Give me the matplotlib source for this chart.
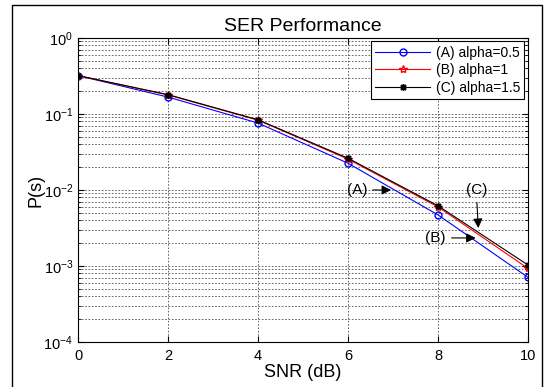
import matplotlib
matplotlib.use("Agg")
import matplotlib.pyplot as plt
from matplotlib.patches import Rectangle

plt.rcParams["font.family"] = ["Liberation Sans", "DejaVu Sans"]

snr = [0, 2, 4, 6, 8, 10]
ser_a = [0.32, 0.167, 0.076, 0.0225, 0.0047, 0.00071]
ser_b = [0.32, 0.178, 0.083, 0.0255, 0.0060, 0.00093]
ser_c = [0.32, 0.180, 0.084, 0.0262, 0.0062, 0.00103]
labels = ["(A) alpha=0.5", "(B) alpha=1", "(C) alpha=1.5"]

fig = plt.figure(figsize=(5.51, 3.87), dpi=100)
ax = fig.add_axes([0.1416, 0.1163, 0.8166, 0.7855])

ax.semilogy(snr, ser_a, color="blue", marker="o", mfc="none", ms=5, lw=0.8, label=labels[0])
ax.semilogy(snr, ser_b, color="red", marker="*", mfc="none", ms=6, lw=0.8, label=labels[1])
ax.semilogy(snr, ser_c, color="black", marker=(8, 2, 0), ms=5, lw=0.8, label=labels[2])

ax.set_xlim(0, 10)
ax.set_ylim(1e-4, 1)
ax.set_xticks([0, 2, 4, 6, 8, 10])
ax.grid(True, which="major", ls=(0, (2, 2)), color="0.3", lw=0.6)
ax.grid(True, which="minor", axis="y", ls=(0, (2, 2)), color="0.3", lw=0.6)
ax.tick_params(which="both", direction="in", top=True, right=True, labelsize=10.5)
ax.tick_params(axis="x", pad=5)
ax.tick_params(which="major", length=4)
ax.tick_params(which="minor", length=2)

ax.set_title("SER Performance", fontsize=14, pad=5)
ax.set_xlabel("SNR (dB)", fontsize=13, labelpad=1)
ax.set_ylabel("P(s)", fontsize=13, labelpad=-1)

leg = ax.legend(loc="upper right", fontsize=10, fancybox=False, framealpha=1,
                edgecolor="black", borderaxespad=0.25, handlelength=4.0,
                labelspacing=0.25, borderpad=0.3, handletextpad=0.4)
leg.get_frame().set_linewidth(0.8)

arrow = dict(arrowstyle="-|>", color="black", lw=0.8, mutation_scale=14)
ax.annotate("(A)", xy=(7.02, 0.01), xytext=(6.2, 0.01), fontsize=11,
            ha="center", va="center", arrowprops=arrow)
ax.annotate("(B)", xy=(8.9, 0.00234), xytext=(7.95, 0.00234), fontsize=11,
            ha="center", va="center", arrowprops=arrow)
ax.annotate("(C)", xy=(8.9, 0.0029), xytext=(8.85, 0.01), fontsize=11,
            ha="center", va="center", arrowprops=arrow)

fig.add_artist(Rectangle((0.0212, -0.02), 0.9625, 1.007, transform=fig.transFigure,
                         fill=False, edgecolor="black", lw=1))

fig.savefig("out.png", dpi=100)
